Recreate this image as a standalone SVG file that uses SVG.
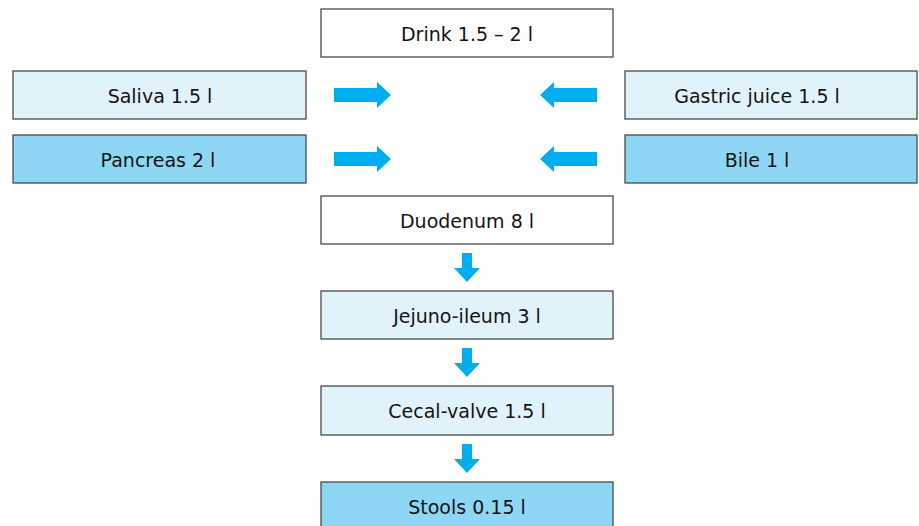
<svg xmlns="http://www.w3.org/2000/svg" width="919" height="526" viewBox="0 0 919 526">
<defs>
<style>
.box{stroke:#4a4a4a;stroke-width:1.3}
.w{fill:#ffffff}
.l{fill:#e0f2fa}
.d{fill:#8dd7f5}
.t{font-family:"DejaVu Sans","Liberation Sans",Arial,sans-serif;font-size:19px;fill:#141414;text-anchor:middle}
.a{fill:#00aeef}
</style>
<path id="ar" d="M0,-7 L43,-7 L43,-13 L57,0 L43,13 L43,7 L0,7 Z"/>
<path id="ad" d="M-5,0 L5,0 L5,15 L13,15 L0,29 L-13,15 L-5,15 Z"/>
</defs>
<rect width="919" height="526" fill="#ffffff"/>
<g id="drink"><rect class="box w" x="321" y="9" width="292" height="48"/><text class="t" x="467" y="41">Drink 1.5 – 2 l</text></g>
<g id="saliva"><rect class="box l" x="13" y="71" width="293" height="48"/><text class="t" x="160" y="103">Saliva 1.5 l</text></g>
<g id="pancreas"><rect class="box d" x="13" y="135" width="293" height="48"/><text class="t" x="158" y="167">Pancreas 2 l</text></g>
<g id="gastric"><rect class="box l" x="625" y="71" width="292" height="48"/><text class="t" x="757" y="103">Gastric juice 1.5 l</text></g>
<g id="bile"><rect class="box d" x="625" y="135" width="292" height="48"/><text class="t" x="757" y="167">Bile 1 l</text></g>
<g id="duodenum"><rect class="box w" x="321" y="196" width="292" height="48"/><text class="t" x="467" y="228">Duodenum 8 l</text></g>
<g id="jejuno"><rect class="box l" x="321" y="291" width="292" height="48"/><text class="t" x="467" y="323">Jejuno-ileum 3 l</text></g>
<g id="cecal"><rect class="box l" x="321" y="386" width="292" height="49"/><text class="t" x="467" y="418">Cecal-valve 1.5 l</text></g>
<g id="stools"><rect class="box d" x="321" y="482" width="292" height="48"/><text class="t" x="467" y="514">Stools 0.15 l</text></g>
<g id="connectors" class="a">
<use href="#ar" x="334" y="95"/>
<use href="#ar" x="334" y="159"/>
<use href="#ar" transform="translate(597,95) scale(-1,1)"/>
<use href="#ar" transform="translate(597,159) scale(-1,1)"/>
<use href="#ad" x="467" y="253"/>
<use href="#ad" x="467" y="348"/>
<use href="#ad" x="467" y="444"/>
</g>
</svg>
